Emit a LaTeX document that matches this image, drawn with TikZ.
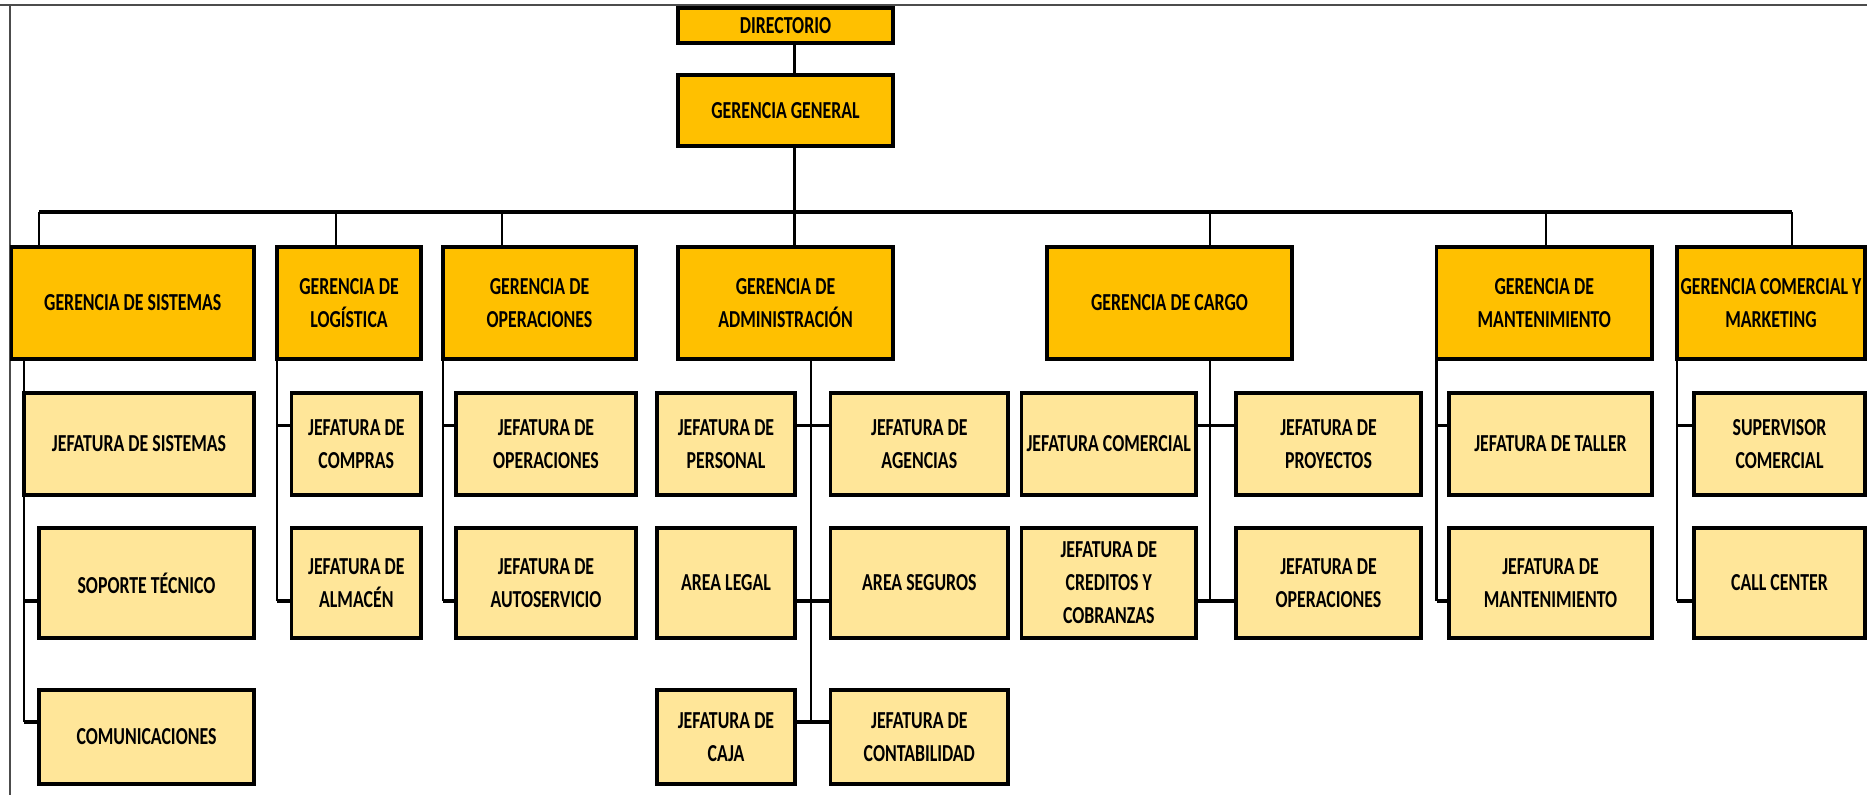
\documentclass[tikz,border=0pt]{standalone}
\usepackage{fontspec}
\setmainfont{Carlito}[FakeStretch=0.73]
\definecolor{gercol}{HTML}{FFC000}
\definecolor{jefcol}{HTML}{FFE699}
\tikzset{
  box/.style={draw=black, line width=1.75pt, inner sep=0pt, align=center,
    font=\fontsize{12.2}{16.5}\selectfont\bfseries},
  gbox/.style={box, fill=gercol},
  jbox/.style={box, fill=jefcol},
  conn/.style={line width=1.1pt, draw=black},
  hconn/.style={line width=1.7pt, draw=black},
  frameline/.style={line width=1.1pt, draw=black!70},
}
\newcommand{\bx}[7]{\node[#1, minimum width={(#5-#3)*0.5pt}, minimum height={(#6-#4)*0.5pt}]
  (#2) at ({(#3+#5)/2},{(#4+#6)/2}) {#7};}
\begin{document}
\begin{tikzpicture}[x=0.5pt, y=-0.5pt]
\useasboundingbox (0,0) rectangle (1867,795);
% frame
\draw[frameline] (0,5) -- (1867,5);
\draw[frameline] (10,5) -- (10,795);
% top
\bx{gbox}{dir}{678}{8}{893}{43}{DIRECTORIO}
\bx{gbox}{gg}{678}{75}{893}{146}{GERENCIA GENERAL}
% gerencias
\bx{gbox}{gsis}{11.5}{247}{254}{359}{GERENCIA DE SISTEMAS}
\bx{gbox}{glog}{277}{247}{421}{359}{GERENCIA DE\\LOGÍSTICA}
\bx{gbox}{gope}{443}{247}{636}{359}{GERENCIA DE\\OPERACIONES}
\bx{gbox}{gadm}{678}{247}{893}{359}{GERENCIA DE\\ADMINISTRACIÓN}
\bx{gbox}{gcar}{1047}{247}{1292}{359}{GERENCIA DE CARGO}
\bx{gbox}{gman}{1436.5}{247}{1652}{359}{GERENCIA DE\\MANTENIMIENTO}
\bx{gbox}{gcom}{1677}{247}{1865}{359}{GERENCIA COMERCIAL Y\\MARKETING}
% jefaturas
\bx{jbox}{jsis}{24}{393}{254}{495}{JEFATURA DE SISTEMAS}
\bx{jbox}{sop}{39}{528}{254}{638}{SOPORTE TÉCNICO}
\bx{jbox}{comu}{39}{690}{254}{784}{COMUNICACIONES}
\bx{jbox}{jcpr}{291.6}{393}{421}{495}{JEFATURA DE\\COMPRAS}
\bx{jbox}{jalm}{291.6}{528}{421}{638}{JEFATURA DE\\ALMACÉN}
\bx{jbox}{jop1}{456}{393}{636}{495}{JEFATURA DE\\OPERACIONES}
\bx{jbox}{jaut}{456}{528}{636}{638}{JEFATURA DE\\AUTOSERVICIO}
\bx{jbox}{jper}{657}{393}{795}{495}{JEFATURA DE\\PERSONAL}
\bx{jbox}{aleg}{657}{528}{795}{638}{AREA LEGAL}
\bx{jbox}{jcaj}{657}{690}{795}{784}{JEFATURA DE\\CAJA}
\bx{jbox}{jage}{830.6}{393}{1008}{495}{JEFATURA DE\\AGENCIAS}
\bx{jbox}{aseg}{830.6}{528}{1008}{638}{AREA SEGUROS}
\bx{jbox}{jcon}{830.6}{690}{1008}{784}{JEFATURA DE\\CONTABILIDAD}
\bx{jbox}{jcme}{1021.5}{393}{1196}{495}{JEFATURA COMERCIAL}
\bx{jbox}{jcre}{1021.5}{528}{1196}{638}{JEFATURA DE\\CREDITOS Y\\COBRANZAS}
\bx{jbox}{jpro}{1236}{393}{1421}{495}{JEFATURA DE\\PROYECTOS}
\bx{jbox}{jop2}{1236}{528}{1421}{638}{JEFATURA DE\\OPERACIONES}
\bx{jbox}{jtal}{1449}{393}{1652}{495}{JEFATURA DE TALLER}
\bx{jbox}{jman}{1449}{528}{1652}{638}{JEFATURA DE\\MANTENIMIENTO}
\bx{jbox}{sup}{1694}{393}{1865}{495}{SUPERVISOR\\COMERCIAL}
\bx{jbox}{call}{1694}{528}{1865}{638}{CALL CENTER}
% trunk and bus
\coordinate (trunk) at (794.5,0);
\coordinate (busL) at (39,212);
\coordinate (busR) at (1792,212);
\draw[conn] (dir.south -| trunk) -- (gg.north -| trunk);
\draw[conn] (gg.south -| trunk) -- (busL -| trunk);
\draw[hconn] (busL) -- (busR);
\draw[conn] (busL) -- (busL |- gsis.north);
\foreach \x/\n in {336/glog, 502/gope, 794.5/gadm, 1210/gcar, 1546/gman}{
  \coordinate (t) at (\x,212);
  \draw[conn] (t) -- (t |- \n.north);
}
\draw[conn] (busR) -- (busR |- gcom.north);
% spines
\coordinate (sp1) at (24,722);
\draw[conn] (gsis.south -| sp1) -- (sp1);
\draw[hconn] (sp1 |- 0,601) -- (sop.west |- 0,601);
\draw[hconn] (sp1) -- (comu.west |- sp1);
\coordinate (sp2) at (277,601);
\draw[conn] (glog.south -| sp2) -- (sp2);
\draw[hconn] (sp2 |- 0,425.7) -- (jcpr.west |- 0,425.7);
\draw[hconn] (sp2) -- (jalm.west |- sp2);
\coordinate (sp3) at (443,601);
\draw[conn] (gope.south -| sp3) -- (sp3);
\draw[hconn] (sp3 |- 0,425.7) -- (jop1.west |- 0,425.7);
\draw[hconn] (sp3) -- (jaut.west |- sp3);
\coordinate (sp4) at (811,722);
\draw[conn] (gadm.south -| sp4) -- (sp4);
\draw[hconn] (jper.east |- 0,425.7) -- (jage.west |- 0,425.7);
\draw[hconn] (aleg.east |- 0,601) -- (aseg.west |- 0,601);
\draw[hconn] (jcaj.east |- sp4) -- (jcon.west |- sp4);
\coordinate (sp5) at (1210,601);
\draw[conn] (gcar.south -| sp5) -- (sp5);
\draw[hconn] (jcme.east |- 0,425.7) -- (jpro.west |- 0,425.7);
\draw[hconn] (jcre.east |- sp5) -- (jop2.west |- sp5);
\coordinate (sp6) at (1436.5,601);
\draw[conn] (gman.south -| sp6) -- (sp6);
\draw[hconn] (sp6 |- 0,425.7) -- (jtal.west |- 0,425.7);
\draw[hconn] (sp6) -- (jman.west |- sp6);
\coordinate (sp7) at (1677,601);
\draw[conn] (gcom.south -| sp7) -- (sp7);
\draw[hconn] (sp7 |- 0,425.7) -- (sup.west |- 0,425.7);
\draw[hconn] (sp7) -- (call.west |- sp7);
\end{tikzpicture}
\end{document}
